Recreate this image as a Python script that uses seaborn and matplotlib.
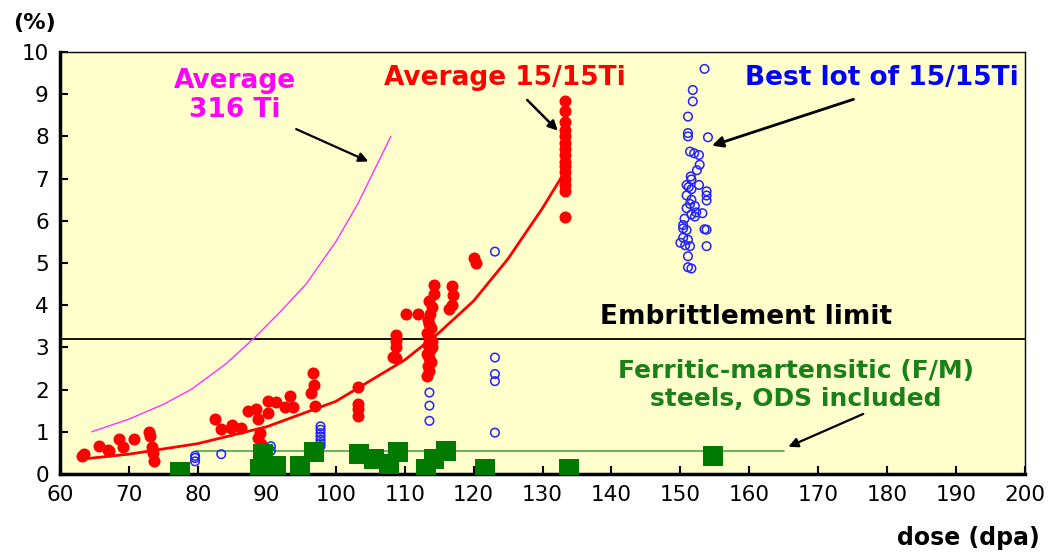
import numpy as np
import pandas as pd
import matplotlib
matplotlib.use("Agg")
import matplotlib.pyplot as plt
import seaborn as sns

sns.set_theme(style="ticks")
plt.rcParams['font.family'] = ['DejaVu Sans']
plt.rcParams['text.color'] = 'black'
plt.rcParams['xtick.color'] = 'black'
plt.rcParams['ytick.color'] = 'black'
plt.rcParams['axes.edgecolor'] = 'black'

# ---- data ----
# average 15/15Ti (red dots)
red_dose = [63.2, 63.5, 65.6, 66.9, 67.1, 68.5, 69.2, 70.7, 72.9, 73.0, 73.3, 73.5, 73.6,
            82.5, 83.4, 84.8, 86.2, 85.0, 87.3, 88.5, 88.7, 89.0, 88.8, 89.2, 90.2, 90.2,
            91.4, 92.6, 93.3, 93.8, 96.4, 96.9, 96.7, 97.0,
            103.2, 103.2, 103.2, 103.2, 108.7, 108.7, 108.7, 108.3, 108.8, 110.2, 111.9,
            113.3, 113.6, 113.4, 113.8, 113.5, 113.2, 113.7, 113.4, 113.9, 113.5, 113.3,
            113.8, 113.6, 113.4, 113.7, 114.0, 113.5, 114.2, 114.2, 113.6, 113.9,
            116.9, 117.0, 116.5, 116.8, 120.1, 120.3,
            133.3, 133.3, 133.3, 133.3, 133.3, 133.3, 133.3, 133.3, 133.3, 133.3,
            133.3, 133.3, 133.3, 133.3, 133.3]
red_swell = [0.43, 0.47, 0.67, 0.58, 0.55, 0.83, 0.64, 0.83, 1.00, 0.90, 0.64, 0.50, 0.31,
             1.30, 1.06, 1.10, 1.10, 1.17, 1.50, 1.53, 1.30, 0.98, 0.85, 0.72, 1.45, 1.73,
             1.70, 1.58, 1.85, 1.58, 1.93, 2.10, 2.40, 1.60,
             2.05, 1.65, 1.55, 1.38, 3.30, 3.15, 3.00, 2.77, 2.75, 3.78, 3.78,
             2.32, 2.45, 2.55, 2.65, 2.75, 2.85, 2.95, 3.05, 3.15, 3.25, 3.35,
             3.45, 3.55, 3.65, 3.80, 3.95, 4.10, 4.26, 4.48, 3.20, 3.00,
             4.45, 4.25, 3.90, 4.00, 5.12, 5.00,
             8.83, 8.60, 8.35, 8.15, 8.00, 7.85, 7.70, 7.55, 7.40, 7.30,
             7.15, 7.00, 6.85, 6.70, 6.10]

# best lot of 15/15Ti (blue open circles)
blue_dose = [79.6, 79.6, 79.6, 83.4, 90.6, 90.6, 97.8, 97.8, 97.8, 97.8, 97.8, 97.8, 97.8,
             113.6, 113.6, 113.6, 123.1, 123.1, 123.1, 123.1, 123.1,
             153.5, 151.8, 151.8, 151.1, 151.1, 151.1, 154.0, 151.4, 152.0, 152.7, 152.8,
             152.4, 151.5, 151.6, 150.9, 151.2, 151.6, 152.7, 153.8, 153.8, 153.8,
             150.9, 151.6, 151.4, 152.1, 150.9, 152.3, 153.2, 150.6, 150.4, 153.5,
             150.4, 150.9, 153.8, 151.6, 152.1, 150.4, 151.1, 150.0, 150.7, 151.4,
             153.8, 151.1, 151.1, 151.6]
blue_swell = [0.43, 0.38, 0.30, 0.47, 0.66, 0.55, 1.13, 1.05, 0.97, 0.89, 0.81, 0.73, 0.66,
              1.93, 1.62, 1.26, 5.27, 2.76, 2.37, 2.20, 0.98,
              9.60, 9.10, 8.83, 8.47, 8.08, 8.00, 7.98, 7.64, 7.60, 7.56, 7.33,
              7.20, 7.05, 6.98, 6.85, 6.80, 6.75, 6.85, 6.70, 6.60, 6.48,
              6.60, 6.50, 6.40, 6.35, 6.30, 6.20, 6.18, 6.05, 5.90, 5.80,
              5.82, 5.78, 5.79, 6.15, 6.10, 5.60, 5.55, 5.48, 5.42, 5.40,
              5.40, 5.16, 4.90, 4.87]

# F/M steels (green squares)
green_dose = [77.4, 89.5, 89.0, 91.4, 94.8, 96.9, 103.4, 105.6, 107.8, 109.0,
              113.1, 114.3, 116.0, 121.7, 133.8, 154.7]
green_swell = [0.04, 0.47, 0.12, 0.20, 0.20, 0.53, 0.47, 0.35, 0.24, 0.51,
               0.12, 0.35, 0.55, 0.12, 0.12, 0.43]

# trend lines
red_fit_dose = [63, 70, 80, 90, 100, 110, 115, 120, 125, 130, 133]
red_fit_swell = [0.35, 0.47, 0.72, 1.12, 1.72, 2.70, 3.35, 4.10, 5.10, 6.30, 7.10]
mag_dose = [64.6, 70, 75, 79, 84, 88.3, 92, 95.7, 100, 103.2, 108]
mag_swell = [1.0, 1.3, 1.65, 2.0, 2.6, 3.24, 3.85, 4.5, 5.5, 6.4, 8.0]

embrittlement = 3.2
fm_level = 0.55
fm_range = [79.7, 165]

xticks = list(range(60, 201, 10))
yticks = list(range(0, 11))

# ---- plot ----
fig = plt.figure(figsize=(10.63, 5.54), dpi=100)
ax = fig.add_axes([0.0564, 0.1444, 0.9079, 0.7617])
ax.set_facecolor('#FFFFCC')

ax.axhline(embrittlement, color='black', lw=1.3, zorder=1)
ax.plot(fm_range, [fm_level, fm_level], color='#4aa84a', lw=1.2, zorder=1)

sns.lineplot(x=mag_dose, y=mag_swell, ax=ax, color='#FF33FF', lw=1.0, sort=False, estimator=None)
sns.lineplot(x=red_fit_dose, y=red_fit_swell, ax=ax, color='red', lw=2.0, sort=False, estimator=None)

sns.scatterplot(x=blue_dose, y=blue_swell, ax=ax, marker='o', s=38,
                facecolor='none', edgecolor='#2222FF', linewidth=1.1, zorder=3)
sns.scatterplot(x=red_dose, y=red_swell, ax=ax, marker='o', s=75,
                color='red', edgecolor='red', linewidth=0, zorder=4)
sns.scatterplot(x=green_dose, y=green_swell, ax=ax, marker='s', s=190,
                color='#007A00', edgecolor='#007A00', linewidth=0, zorder=5)

ax.set_xlim(60, 200)
ax.set_ylim(0, 10)
ax.set_xticks(xticks)
ax.set_yticks(yticks)
ax.tick_params(direction='in', length=6, width=1.5, labelsize=15.5, pad=8, colors='black')
for side in ['left', 'bottom']:
    ax.spines[side].set_linewidth(2.5)
for side in ['top', 'right']:
    ax.spines[side].set_linewidth(1.0)
ax.set_xlabel('')
ax.set_ylabel('')

fig.text(0.012, 0.958, '(%)', fontsize=16, fontweight='bold', ha='left', va='center')
fig.text(0.978, 0.028, 'dose (dpa)', fontsize=17, fontweight='bold', ha='right', va='center')

# annotations
ax.text(85.4, 8.98, 'Average\n316 Ti', color='#FF00FF', fontsize=19, fontweight='bold',
        ha='center', va='center', linespacing=1.15)
ax.annotate('', xy=(105.1, 7.38), xytext=(93.9, 8.2),
            arrowprops=dict(arrowstyle='-|>', color='black', lw=1.6, mutation_scale=14))
ax.text(124.5, 9.39, 'Average 15/15Ti', color='red', fontsize=19, fontweight='bold',
        ha='center', va='center')
ax.annotate('', xy=(132.5, 8.09), xytext=(127.5, 8.91),
            arrowprops=dict(arrowstyle='-|>', color='black', lw=1.8, mutation_scale=14))
ax.text(179.2, 9.39, 'Best lot of 15/15Ti', color='blue', fontsize=19, fontweight='bold',
        ha='center', va='center')
ax.annotate('', xy=(154.2, 7.76), xytext=(175.5, 8.9),
            arrowprops=dict(arrowstyle='-|>', color='black', lw=2.0, mutation_scale=16))
ax.text(159.6, 3.71, 'Embrittlement limit', color='black', fontsize=19, fontweight='bold',
        ha='center', va='center')
ax.text(166.8, 2.1, 'Ferritic-martensitic (F/M)\nsteels, ODS included', color='#1A801A',
        fontsize=18, fontweight='bold', ha='center', va='center', linespacing=1.2)
ax.annotate('', xy=(165.3, 0.62), xytext=(176.9, 1.45),
            arrowprops=dict(arrowstyle='-|>', color='black', lw=1.6, mutation_scale=14))

fig.savefig('out.png', dpi=100)
